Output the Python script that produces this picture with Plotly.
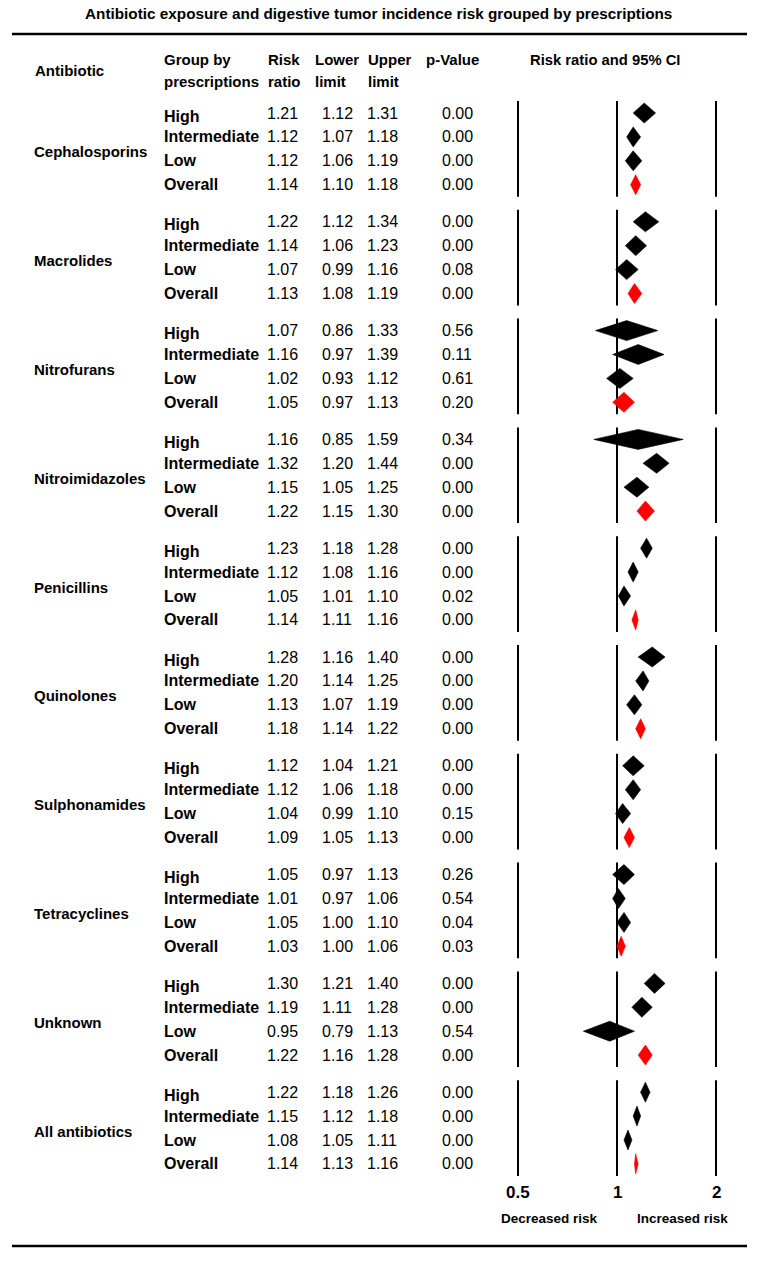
import math
import plotly.graph_objects as go

# ---------------- data ----------------
antibiotics = ["Cephalosporins", "Macrolides", "Nitrofurans", "Nitroimidazoles",
               "Penicillins", "Quinolones", "Sulphonamides", "Tetracyclines",
               "Unknown", "All antibiotics"]
levels = ["High", "Intermediate", "Low", "Overall"]

risk_ratio = [
    [1.21, 1.12, 1.12, 1.14],
    [1.22, 1.14, 1.07, 1.13],
    [1.07, 1.16, 1.02, 1.05],
    [1.16, 1.32, 1.15, 1.22],
    [1.23, 1.12, 1.05, 1.14],
    [1.28, 1.20, 1.13, 1.18],
    [1.12, 1.12, 1.04, 1.09],
    [1.05, 1.01, 1.05, 1.03],
    [1.30, 1.19, 0.95, 1.22],
    [1.22, 1.15, 1.08, 1.14],
]
lower_limit = [
    [1.12, 1.07, 1.06, 1.10],
    [1.12, 1.06, 0.99, 1.08],
    [0.86, 0.97, 0.93, 0.97],
    [0.85, 1.20, 1.05, 1.15],
    [1.18, 1.08, 1.01, 1.11],
    [1.16, 1.14, 1.07, 1.14],
    [1.04, 1.06, 0.99, 1.05],
    [0.97, 0.97, 1.00, 1.00],
    [1.21, 1.11, 0.79, 1.16],
    [1.18, 1.12, 1.05, 1.13],
]
upper_limit = [
    [1.31, 1.18, 1.19, 1.18],
    [1.34, 1.23, 1.16, 1.19],
    [1.33, 1.39, 1.12, 1.13],
    [1.59, 1.44, 1.25, 1.30],
    [1.28, 1.16, 1.10, 1.16],
    [1.40, 1.25, 1.19, 1.22],
    [1.21, 1.18, 1.10, 1.13],
    [1.13, 1.06, 1.10, 1.06],
    [1.40, 1.28, 1.13, 1.28],
    [1.26, 1.18, 1.11, 1.16],
]
p_value = [
    [0.00, 0.00, 0.00, 0.00],
    [0.00, 0.00, 0.08, 0.00],
    [0.56, 0.11, 0.61, 0.20],
    [0.34, 0.00, 0.00, 0.00],
    [0.00, 0.00, 0.02, 0.00],
    [0.00, 0.00, 0.00, 0.00],
    [0.00, 0.00, 0.15, 0.00],
    [0.26, 0.54, 0.04, 0.03],
    [0.00, 0.00, 0.54, 0.00],
    [0.00, 0.00, 0.00, 0.00],
]
ref_lines = [0.5, 1, 2]
tick_labels = ["0.5", "1", "2"]

title_text = "Antibiotic exposure and digestive tumor incidence risk grouped by prescriptions"

# ---------------- layout constants ----------------
W, H = 765, 1268
Y0 = 113.0          # first row centre (px)
GROUP_PITCH = 108.8
ROW_PITCH = 23.9
HALF_H = 10         # diamond half height
PX_PER_DECADE = 198 / (2 * math.log10(2))
X_ONE = 617
FONT = "Liberation Sans, Arial, sans-serif"


def row_y(g, r):
    return Y0 + g * GROUP_PITCH + r * ROW_PITCH


def px(xpix):
    return xpix / W


fig = go.Figure()

# diamonds
for g, name in enumerate(antibiotics):
    for r, lev in enumerate(levels):
        y = row_y(g, r)
        rr, lo, hi = risk_ratio[g][r], lower_limit[g][r], upper_limit[g][r]
        color = "#FF0000" if lev == "Overall" else "#000000"
        fig.add_trace(go.Scatter(
            x=[lo, rr, hi, rr, lo], y=[y, y - HALF_H, y, y + HALF_H, y],
            mode="lines", fill="toself", fillcolor=color,
            line=dict(color=color, width=0.6), hoverinfo="skip", showlegend=False))

# reference vertical segments per group
for g in range(len(antibiotics)):
    top = row_y(g, 0) - 12
    bot = row_y(g, len(levels) - 1) + 12
    for xv in ref_lines:
        fig.add_shape(type="line", xref="x", yref="y", x0=xv, x1=xv, y0=top, y1=bot,
                      line=dict(color="black", width=2), layer="below")

annotations = []


def txt(x, y, s, size, bold=False, xanchor="left", xref="paper", color="black"):
    annotations.append(dict(
        x=x, y=y, xref=xref, yref="y", text=(f"<b>{s}</b>" if bold else s),
        showarrow=False, xanchor=xanchor, yanchor="middle",
        font=dict(family=FONT, size=size, color=color)))


# title
txt(px(378), 13, title_text, 15.3, bold=True, xanchor="center")

# headers
txt(px(33), 70, "Antibiotic", 15, bold=True)
txt(px(162), 59, "Group by", 15, bold=True)
txt(px(162), 81, "prescriptions", 15, bold=True)
txt(px(266), 59, "Risk", 15, bold=True)
txt(px(266), 81, "ratio", 15, bold=True)
txt(px(313), 59, "Lower", 15, bold=True)
txt(px(313), 81, "limit", 15, bold=True)
txt(px(366), 59, "Upper", 15, bold=True)
txt(px(366), 81, "limit", 15, bold=True)
txt(px(424), 59, "p-Value", 15, bold=True)
txt(px(605), 60, "Risk ratio and 95% CI", 14.8, bold=True, xanchor="center")

# table body
for g, name in enumerate(antibiotics):
    mid = (row_y(g, 0) + row_y(g, len(levels) - 1)) / 2 + 3
    txt(px(32), mid, name, 15, bold=True)
    for r, lev in enumerate(levels):
        y = row_y(g, r)
        txt(px(162), y + (3 if r == 0 else 0), lev, 16, bold=True)
        txt(px(265), y, f"{risk_ratio[g][r]:.2f}", 16)
        txt(px(320), y, f"{lower_limit[g][r]:.2f}", 16)
        txt(px(365), y, f"{upper_limit[g][r]:.2f}", 16)
        txt(px(440), y, f"{p_value[g][r]:.2f}", 16)

# x tick labels under last group (annotation x on a log axis is log10)
for xv, lab in zip(ref_lines, tick_labels):
    txt(math.log10(xv), 1192, lab, 17, bold=True, xanchor="center", xref="x")

txt(px(549), 1218, "Decreased risk", 13.5, bold=True, xanchor="center")
txt(px(682), 1218, "Increased risk", 13.5, bold=True, xanchor="center")

# horizontal rules
for yv in (34, 1246):
    fig.add_shape(type="line", xref="paper", yref="y", x0=px(12), x1=px(747),
                  y0=yv, y1=yv, line=dict(color="black", width=2.5))

x_lo = -X_ONE / PX_PER_DECADE
x_hi = (W - X_ONE) / PX_PER_DECADE

fig.update_layout(
    width=W, height=H, margin=dict(l=0, r=0, t=0, b=0),
    paper_bgcolor="white", plot_bgcolor="white",
    xaxis=dict(type="log", range=[x_lo, x_hi], visible=False, domain=[0, 1], fixedrange=True),
    yaxis=dict(range=[H, 0], visible=False, domain=[0, 1], fixedrange=True),
    annotations=annotations, showlegend=False,
)

fig.write_html("out.html", config={"displayModeBar": False},
               post_script="document.body.style.margin='0';document.body.style.overflow='hidden';")
